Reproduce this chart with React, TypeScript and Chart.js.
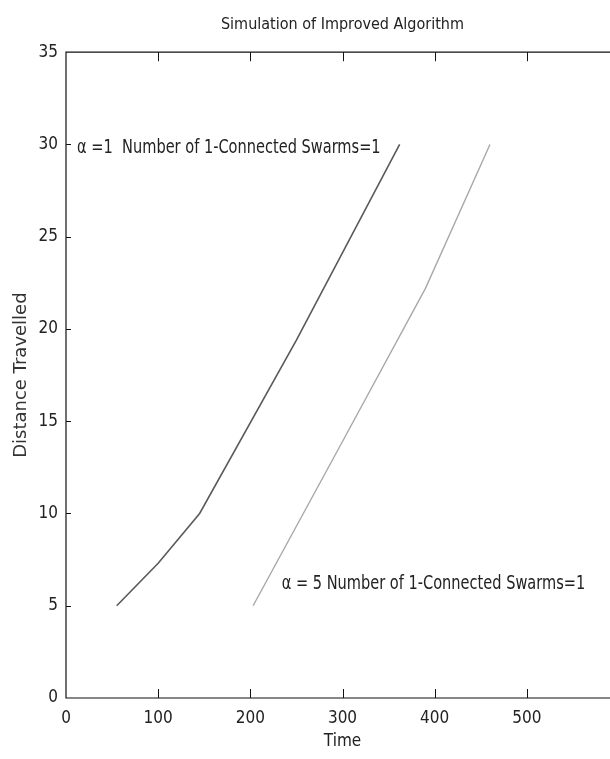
import React, { useEffect, useRef } from 'react';
import { Chart, registerables } from 'chart.js';

Chart.register(...registerables);

// Distance travelled over time for the two swarm settings
const alpha1Time = [55, 100, 145, 250, 362];
const alpha1Distance = [5, 7.3, 10, 19.4, 30];
const alpha5Time = [203, 300, 390, 460];
const alpha5Distance = [5, 13.9, 22.2, 30];

// Axis ticks
const xTickValues = [0, 100, 200, 300, 400, 500];
const yTickValues = [0, 5, 10, 15, 20, 25, 30, 35];

// In-plot annotations (data coordinates, left-anchored, vertically centred)
const noteTexts = ['α =1  Number of 1-Connected Swarms=1', 'α = 5 Number of 1-Connected Swarms=1'];
const noteX = [12, 234];
const noteY = [29.8, 6.2];

const NARROW = '"Liberation Sans Narrow", "DejaVu Sans Condensed", "Liberation Sans", sans-serif';

const framePlugin = {
  id: 'frameBox',
  afterDraw(chart: any) {
    const { ctx, chartArea } = chart;
    const { left, right, top, bottom } = chartArea;
    const xs = chart.scales.x;
    const ys = chart.scales.y;
    ctx.save();
    ctx.strokeStyle = '#111';
    ctx.lineWidth = 1.2;
    ctx.beginPath();
    ctx.moveTo(left, top);
    ctx.lineTo(right, top);
    ctx.lineTo(right, bottom);
    ctx.lineTo(left, bottom);
    ctx.closePath();
    ctx.stroke();
    // inward tick marks
    ctx.lineWidth = 1;
    ctx.beginPath();
    for (const v of xTickValues) {
      if (v === xs.min || v === xs.max) continue;
      const px = Math.round(xs.getPixelForValue(v)) + 0.5;
      ctx.moveTo(px, bottom);
      ctx.lineTo(px, bottom - 9);
      ctx.moveTo(px, top);
      ctx.lineTo(px, top + 9);
    }
    for (const v of yTickValues) {
      if (v === ys.min || v === ys.max) continue;
      const py = Math.round(ys.getPixelForValue(v)) + 0.5;
      ctx.moveTo(left, py);
      ctx.lineTo(left + 5, py);
      ctx.moveTo(right, py);
      ctx.lineTo(right - 5, py);
    }
    ctx.stroke();
    ctx.restore();
  },
};

const notePlugin = {
  id: 'swarmNotes',
  afterDatasetsDraw(chart: any) {
    const { ctx } = chart;
    const xs = chart.scales.x;
    const ys = chart.scales.y;
    const squeeze = 0.81;
    ctx.save();
    ctx.font = `20px ${NARROW}`;
    ctx.fillStyle = '#222';
    ctx.textAlign = 'left';
    ctx.textBaseline = 'middle';
    noteTexts.forEach((t, i) => {
      const px = xs.getPixelForValue(noteX[i]);
      const py = ys.getPixelForValue(noteY[i]);
      ctx.save();
      ctx.translate(px, py);
      ctx.scale(squeeze, 1);
      ctx.fillText(t, 0, 0);
      ctx.restore();
    });
    ctx.restore();
  },
};

export default function App() {
  const canvasRef = useRef<HTMLCanvasElement | null>(null);

  useEffect(() => {
    if (!canvasRef.current) return;
    const chart = new Chart(canvasRef.current, {
      type: 'scatter',
      data: {
        datasets: [
          {
            label: 'alpha = 1',
            data: alpha1Time.map((t, i) => ({ x: t, y: alpha1Distance[i] })),
            showLine: true,
            borderColor: '#5a5a5a',
            borderWidth: 1.6,
            pointRadius: 0,
            tension: 0,
          },
          {
            label: 'alpha = 5',
            data: alpha5Time.map((t, i) => ({ x: t, y: alpha5Distance[i] })),
            showLine: true,
            borderColor: '#a8a8a8',
            borderWidth: 1.4,
            pointRadius: 0,
            tension: 0,
          },
        ],
      },
      options: {
        animation: false,
        responsive: false,
        devicePixelRatio: 1,
        layout: { padding: { left: 0, right: 21, top: 0, bottom: 0 } },
        plugins: {
          legend: { display: false },
          tooltip: { enabled: false },
          title: {
            display: true,
            text: 'Simulation of Improved Algorithm',
            fullSize: false,
            color: '#222',
            font: { family: NARROW, size: 16, weight: 'normal' },
            padding: { top: 15, bottom: 18 },
          },
        },
        scales: {
          x: {
            type: 'linear',
            min: 0,
            max: 600,
            afterBuildTicks: (s: any) => {
              s.ticks = xTickValues.map((v) => ({ value: v }));
            },
            afterFit: (s: any) => {
              s.height = 61;
            },
            grid: { display: false, drawTicks: false },
            border: { display: false },
            ticks: {
              color: '#222',
              padding: 10,
              maxRotation: 0,
              autoSkip: false,
              font: { family: NARROW, size: 17 },
            },
            title: {
              display: true,
              text: 'Time',
              color: '#222',
              font: { family: NARROW, size: 17 },
              padding: { top: 0, bottom: 7 },
            },
          },
          y: {
            type: 'linear',
            min: 0,
            max: 35,
            afterBuildTicks: (s: any) => {
              s.ticks = yTickValues.map((v) => ({ value: v }));
            },
            afterFit: (s: any) => {
              s.width = 66;
            },
            grid: { display: false, drawTicks: false },
            border: { display: false },
            ticks: {
              color: '#222',
              padding: 8,
              autoSkip: false,
              font: { family: NARROW, size: 17 },
            },
            title: {
              display: true,
              text: 'Distance Travelled',
              color: '#333',
              font: { family: '"DejaVu Sans", sans-serif', size: 18 },
              padding: { top: 11, bottom: 0 },
            },
          },
        },
      },
      plugins: [framePlugin, notePlugin],
    });
    return () => chart.destroy();
  }, []);

  return (
    <div
      style={{
        position: 'fixed',
        left: 0,
        top: 0,
        width: 610,
        height: 759,
        overflow: 'hidden',
        background: '#fff',
      }}
    >
      <canvas ref={canvasRef} width={640} height={759} style={{ display: 'block', width: 640, height: 759 }} />
    </div>
  );
}
